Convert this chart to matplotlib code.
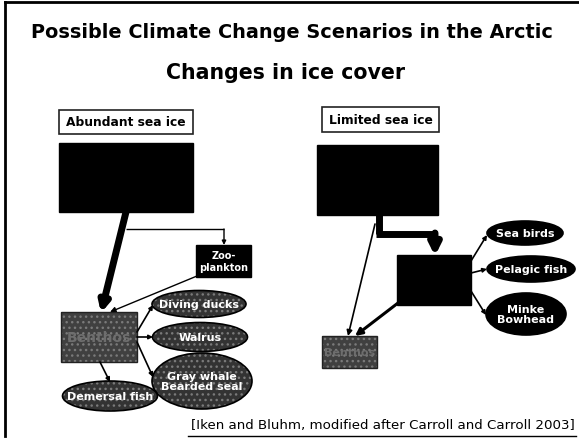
import matplotlib
matplotlib.use("Agg")
import matplotlib.pyplot as plt
from matplotlib.patches import Rectangle, Ellipse, FancyArrowPatch

# texts on the slide
title = "Possible Climate Change Scenarios in the Arctic"
subtitle = "Changes in ice cover"
scenarios = ["Abundant sea ice", "Limited sea ice"]
citation = "[Iken and Bluhm, modified after Carroll and Carroll 2003]"

# consumers fed by the benthos (abundant ice) and by the pelagic box (limited ice)
left_consumers = ["Diving ducks", "Walrus", "Gray whale\nBearded seal", "Demersal fish"]
right_consumers = ["Sea birds", "Pelagic fish", "Minke\nBowhead"]

FONT = "DejaVu Sans"

fig = plt.figure(figsize=(5.79, 4.39), dpi=100)
ax = fig.add_axes([0, 0, 1, 1])
ax.set_xlim(0, 579)
ax.set_ylim(439, 0)
ax.axis("off")

# slide frame (top and left edges, underline below the citation)
ax.plot([5, 579], [3, 3], color="black", lw=2)
ax.plot([5, 5], [3, 437], color="black", lw=2)
ax.plot([188, 576], [437, 437], color="black", lw=1)

ax.text(292, 32, title, ha="center", va="center", fontsize=13.9,
        fontweight="bold", family=FONT)
ax.text(285, 73, subtitle, ha="center", va="center", fontsize=14.8,
        fontweight="bold", family=FONT)
ax.text(575, 426, citation, ha="right", va="center", fontsize=9.6, family=FONT)


def label_box(x0, y0, x1, y1, text):
    ax.add_patch(Rectangle((x0, y0), x1 - x0, y1 - y0, facecolor="white",
                           edgecolor="#222222", lw=1.2))
    ax.text((x0 + x1) / 2, (y0 + y1) / 2, text, ha="center", va="center",
            fontsize=8.8, fontweight="bold", family=FONT)


def black_box(x0, y0, x1, y1):
    ax.add_patch(Rectangle((x0, y0), x1 - x0, y1 - y0, facecolor="black",
                           edgecolor="black", lw=1))


def gray_box(x0, y0, x1, y1, text, fs):
    ax.add_patch(Rectangle((x0, y0), x1 - x0, y1 - y0, facecolor="#404040",
                           edgecolor="#7a7a7a", hatch="...", lw=0))
    ax.add_patch(Rectangle((x0, y0), x1 - x0, y1 - y0, facecolor="none",
                           edgecolor="#222222", lw=1))
    ax.text((x0 + x1) / 2, (y0 + y1) / 2, text, ha="center", va="center",
            fontsize=fs, fontweight="bold", color="#6e6e6e", family=FONT)


def oval(cx, cy, w, h, text, speckled):
    if speckled:
        ax.add_patch(Ellipse((cx, cy), w, h, facecolor="#333333",
                             edgecolor="#7a7a7a", hatch="...", lw=0))
    else:
        ax.add_patch(Ellipse((cx, cy), w, h, facecolor="black", lw=0))
    ax.add_patch(Ellipse((cx, cy), w, h, facecolor="none",
                         edgecolor="black", lw=1.2))
    ax.text(cx, cy, text, ha="center", va="center", fontsize=8,
            fontweight="bold", color="white", family=FONT, linespacing=1.1)


def arrow(p0, p1, lw=1, head=4):
    ax.add_patch(FancyArrowPatch(p0, p1, arrowstyle="-|>",
                                 mutation_scale=head * 2, lw=lw,
                                 color="black", shrinkA=0, shrinkB=0))


def line(xs, ys, lw=1):
    ax.plot(xs, ys, color="black", lw=lw, solid_capstyle="butt")


# ---- abundant sea ice ----
label_box(59, 111, 193, 135, scenarios[0])
black_box(59, 144, 193, 213)

# thick flux from ice algae down to the benthos
arrow((126, 213), (101, 314), lw=5, head=7)
# branch to zooplankton
line([126, 224], [230, 230], lw=1)
arrow((224, 230), (224, 246), lw=1, head=3)
ax.add_patch(Rectangle((196, 246), 55, 32, facecolor="black", edgecolor="black"))
ax.text(223.5, 262, "Zoo-\nplankton", ha="center", va="center", fontsize=7,
        fontweight="bold", color="white", family=FONT, linespacing=1.15)
arrow((197, 277), (110, 313), lw=1, head=4)

gray_box(61, 313, 137, 363, "Benthos", 10)

left_pos = [(199, 305, 94, 27), (200, 338, 95, 29), (202, 382, 100, 56),
            (110, 397, 95, 30)]
for name, (cx, cy, w, h) in zip(left_consumers, left_pos):
    oval(cx, cy, w, h, name, speckled=True)

arrow((137, 333), (153, 306), lw=1.2, head=3)
arrow((137, 338), (153, 338), lw=1.2, head=3)
arrow((137, 343), (153, 378), lw=1.2, head=3)
arrow((100, 363), (110, 383), lw=1.2, head=3)

# ---- limited sea ice ----
label_box(322, 108, 439, 133, scenarios[1])
black_box(317, 146, 438, 216)

# thick flux to the pelagic system
line([378.5, 378.5], [216, 235], lw=5)
line([376, 435], [234.5, 234.5], lw=5)
arrow((435, 234), (435, 257), lw=5, head=8)
black_box(397, 256, 471, 306)

# thin flux to a reduced benthos
arrow((375, 225), (348, 337), lw=1.2, head=4)
arrow((398, 304), (355, 337), lw=2.2, head=5)
gray_box(322, 337, 377, 369, "Benthos", 8)

right_pos = [(525, 234, 76, 24), (531, 270, 88, 26), (526, 315, 80, 42)]
for name, (cx, cy, w, h) in zip(right_consumers, right_pos):
    oval(cx, cy, w, h, name, speckled=False)

arrow((471, 262), (487, 236), lw=1.2, head=3)
arrow((471, 274), (487, 270), lw=1.2, head=3)
arrow((471, 292), (486, 316), lw=1.2, head=3)

fig.savefig("out.png", dpi=100)
